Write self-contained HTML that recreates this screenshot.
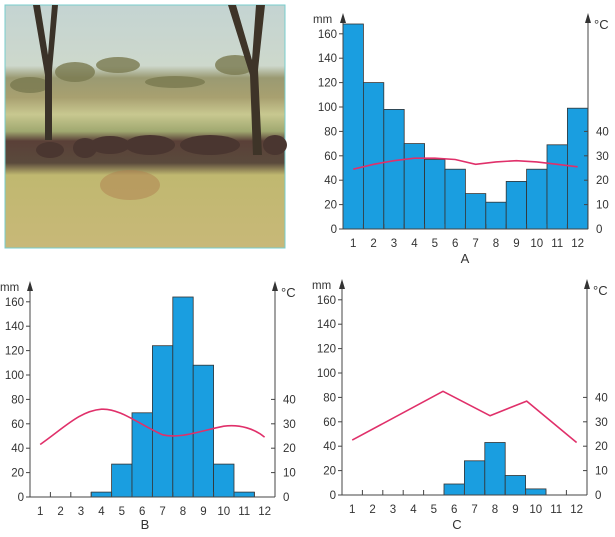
<!DOCTYPE html><html><head><style>body{margin:0;background:#fff}svg{display:block}text{font-family:"Liberation Sans",sans-serif;font-size:11.5px;fill:#333}</style></head><body>
<svg width="615" height="537" viewBox="0 0 615 537" xmlns="http://www.w3.org/2000/svg">
<defs>
<linearGradient id="ph" x1="0" y1="0" x2="0" y2="1"><stop offset="0" stop-color="#c4d4d2"/><stop offset="0.25" stop-color="#cdd8cc"/><stop offset="0.3" stop-color="#9a9a72"/><stop offset="0.38" stop-color="#a8a070"/><stop offset="0.45" stop-color="#c8c890"/><stop offset="0.52" stop-color="#a0a870"/><stop offset="0.56" stop-color="#5a4038"/><stop offset="0.65" stop-color="#5a4a3c"/><stop offset="0.7" stop-color="#c0b870"/><stop offset="1" stop-color="#c8b878"/></linearGradient>
<g id="axes">
<line x1="0" y1="0" x2="0" y2="-212" stroke="#444"/><polygon points="-3,-206 3,-206 0,-216" fill="#333"/>
<line x1="245" y1="0" x2="245" y2="-212" stroke="#444"/><polygon points="242,-206 248,-206 245,-216" fill="#333"/>
<line x1="0" y1="0" x2="245" y2="0" stroke="#444"/>
<g stroke="#444"><line x1="-4" y1="0" x2="0" y2="0"/><line x1="-4" y1="-24.4" x2="0" y2="-24.4"/><line x1="-4" y1="-48.8" x2="0" y2="-48.8"/><line x1="-4" y1="-73.2" x2="0" y2="-73.2"/><line x1="-4" y1="-97.6" x2="0" y2="-97.6"/><line x1="-4" y1="-122" x2="0" y2="-122"/><line x1="-4" y1="-146.4" x2="0" y2="-146.4"/><line x1="-4" y1="-170.8" x2="0" y2="-170.8"/><line x1="-4" y1="-195.2" x2="0" y2="-195.2"/>
<line x1="241" y1="-24.4" x2="245" y2="-24.4"/><line x1="241" y1="-48.8" x2="245" y2="-48.8"/><line x1="241" y1="-73.2" x2="245" y2="-73.2"/><line x1="241" y1="-97.6" x2="245" y2="-97.6"/>
<line x1="20.4" y1="0" x2="20.4" y2="-5"/><line x1="40.8" y1="0" x2="40.8" y2="-5"/><line x1="61.2" y1="0" x2="61.2" y2="-5"/><line x1="81.6" y1="0" x2="81.6" y2="-5"/><line x1="102" y1="0" x2="102" y2="-5"/><line x1="122.4" y1="0" x2="122.4" y2="-5"/><line x1="142.8" y1="0" x2="142.8" y2="-5"/><line x1="163.2" y1="0" x2="163.2" y2="-5"/><line x1="183.6" y1="0" x2="183.6" y2="-5"/><line x1="204" y1="0" x2="204" y2="-5"/><line x1="224.4" y1="0" x2="224.4" y2="-5"/></g>
<g text-anchor="end"><text x="-6" y="4">0</text><text x="-6" y="-20.4">20</text><text x="-6" y="-44.8">40</text><text x="-6" y="-69.2">60</text><text x="-6" y="-93.6">80</text><text x="-6" y="-118">100</text><text x="-6" y="-142.4">120</text><text x="-6" y="-166.8">140</text><text x="-6" y="-191.2">160</text></g>
<text x="-30" y="-206">mm</text><text x="251" y="-200" style="font-size:13px">°C</text>
<g><text x="253" y="4">0</text><text x="253" y="-20.4">10</text><text x="253" y="-44.8">20</text><text x="253" y="-69.2">30</text><text x="253" y="-93.6">40</text></g>
<g text-anchor="middle"><text x="10.2" y="18">1</text><text x="30.6" y="18">2</text><text x="51" y="18">3</text><text x="71.4" y="18">4</text><text x="91.8" y="18">5</text><text x="112.2" y="18">6</text><text x="132.6" y="18">7</text><text x="153" y="18">8</text><text x="173.4" y="18">9</text><text x="193.8" y="18">10</text><text x="214.2" y="18">11</text><text x="234.6" y="18">12</text></g>
</g></defs>
<rect x="5" y="5" width="280" height="243" fill="url(#ph)" stroke="#7cc" stroke-width="1"/>
<g fill="#7a7a50" opacity="0.8"><ellipse cx="75" cy="72" rx="20" ry="10"/><ellipse cx="118" cy="65" rx="22" ry="8"/><ellipse cx="235" cy="65" rx="20" ry="10"/><ellipse cx="30" cy="85" rx="20" ry="8"/><ellipse cx="175" cy="82" rx="30" ry="6"/></g>
<g fill="#4a3630"><ellipse cx="85" cy="148" rx="12" ry="10"/><ellipse cx="110" cy="145" rx="20" ry="9"/><ellipse cx="150" cy="145" rx="25" ry="10"/><ellipse cx="210" cy="145" rx="30" ry="10"/><ellipse cx="275" cy="145" rx="12" ry="10"/><ellipse cx="50" cy="150" rx="14" ry="8"/></g>
<ellipse cx="130" cy="185" rx="30" ry="15" fill="#b08050" opacity="0.5"/>
<path d="M33,5 L40,5 L48,55 L52,5 L58,5 L52,70 L52,140 L45,140 L45,75 Z" fill="#3a3228"/>
<path d="M228,5 L236,5 L252,60 L256,5 L265,5 L258,70 L262,155 L253,155 L250,75 Z" fill="#3e3428"/>
<g transform="translate(343,229)">
<g fill="#1a9ee0" stroke="#333" stroke-width="0.8">
<rect x="0" y="-205" width="20.4" height="205"/><rect x="20.4" y="-146.4" width="20.4" height="146.4"/><rect x="40.8" y="-119.6" width="20.4" height="119.6"/><rect x="61.2" y="-85.4" width="20.4" height="85.4"/><rect x="81.6" y="-69.5" width="20.4" height="69.5"/><rect x="102" y="-59.8" width="20.4" height="59.8"/><rect x="122.4" y="-35.4" width="20.4" height="35.4"/><rect x="142.8" y="-26.8" width="20.4" height="26.8"/><rect x="163.2" y="-47.6" width="20.4" height="47.6"/><rect x="183.6" y="-59.8" width="20.4" height="59.8"/><rect x="204" y="-84.2" width="20.4" height="84.2"/><rect x="224.4" y="-120.8" width="20.4" height="120.8"/></g>
<use href="#axes"/>
<polyline fill="none" stroke="#e0306a" stroke-width="1.6" points="10.2,-59.8 30.6,-64.7 51,-68.3 71.4,-70.8 91.8,-70.8 112.2,-69.5 132.6,-64.7 153,-67.1 173.4,-68.3 193.8,-67.1 214.2,-64.7 234.6,-62.2"/>
<text x="122" y="34" text-anchor="middle" style="font-size:13px">A</text></g>
<g transform="translate(30,497)">
<g fill="#1a9ee0" stroke="#333" stroke-width="0.8">
<rect x="61.2" y="-4.9" width="20.4" height="4.9"/><rect x="81.6" y="-32.9" width="20.4" height="32.9"/><rect x="102" y="-84.2" width="20.4" height="84.2"/><rect x="122.4" y="-151.3" width="20.4" height="151.3"/><rect x="142.8" y="-200" width="20.4" height="200"/><rect x="163.2" y="-131.8" width="20.4" height="131.8"/><rect x="183.6" y="-32.9" width="20.4" height="32.9"/><rect x="204" y="-4.9" width="20.4" height="4.9"/></g>
<use href="#axes"/>
<path fill="none" stroke="#e0306a" stroke-width="1.6" d="M10.2,-52.5 C35,-70 50,-86 71.4,-87.8 C90,-89 110,-72 132.6,-62.2 C150,-58 170,-66 193.8,-70.8 C210,-73 225,-68 234.6,-59.8"/>
<text x="115" y="32" text-anchor="middle" style="font-size:13px">B</text></g>
<g transform="translate(342,495)">
<g fill="#1a9ee0" stroke="#333" stroke-width="0.8">
<rect x="102" y="-11" width="20.4" height="11"/><rect x="122.4" y="-34.2" width="20.4" height="34.2"/><rect x="142.8" y="-52.5" width="20.4" height="52.5"/><rect x="163.2" y="-19.5" width="20.4" height="19.5"/><rect x="183.6" y="-6.1" width="20.4" height="6.1"/></g>
<use href="#axes"/>
<polyline fill="none" stroke="#e0306a" stroke-width="1.6" stroke-linejoin="round" points="10.2,-54.9 101,-103.7 148,-79.3 184.7,-93.9 234.6,-52.5"/>
<text x="115" y="34" text-anchor="middle" style="font-size:13px">C</text></g>
</svg></body></html>
